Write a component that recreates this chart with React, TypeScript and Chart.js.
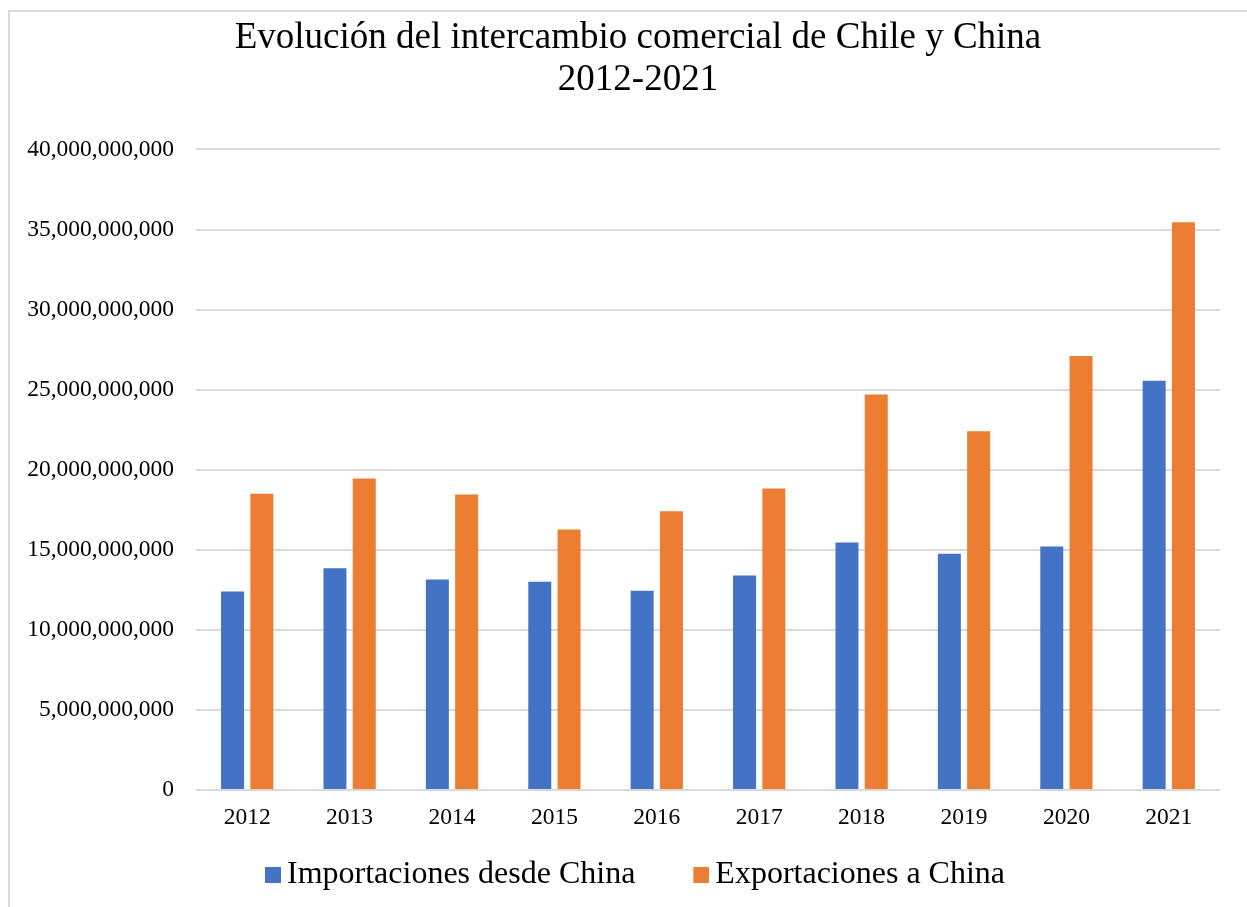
import React, { useEffect, useRef } from "react";
import { Chart, registerables } from "chart.js";

Chart.register(...registerables);

const years = ["2012", "2013", "2014", "2015", "2016", "2017", "2018", "2019", "2020", "2021"];
const importaciones = [12.4e9, 13.85e9, 13.15e9, 13.0e9, 12.45e9, 13.4e9, 15.45e9, 14.75e9, 15.2e9, 25.55e9];
const exportaciones = [18.5e9, 19.45e9, 18.45e9, 16.27e9, 17.4e9, 18.83e9, 24.7e9, 22.4e9, 27.1e9, 35.45e9];
const titleLines = ["Evolución del intercambio comercial de Chile y China", "2012-2021"];
const seriesNames = ["Importaciones desde China", "Exportaciones a China"];
const seriesColors = ["#4472C4", "#ED7D31"];
const yMin = 0;
const yMax = 40e9;
const yStep = 5e9;

const SERIF = "'Liberation Serif', 'Times New Roman', serif";

function makeSwatch(color: string): HTMLCanvasElement {
  const c = document.createElement("canvas");
  c.width = 20;
  c.height = 16;
  const ctx = c.getContext("2d")!;
  ctx.fillStyle = color;
  ctx.fillRect(4, 0, 16, 16);
  return c;
}

const noLabelClip = {
  id: "noLabelClip",
  beforeDraw(chart: any) {
    const x = chart.scales && chart.scales.x;
    if (x) x._computeLabelArea = () => undefined;
  },
};

export default function App() {
  const ref = useRef<HTMLCanvasElement>(null);

  useEffect(() => {
    if (!ref.current) return;
    const swatches = seriesColors.map(makeSwatch);
    const chart = new Chart(ref.current, {
      type: "bar",
      data: {
        labels: years,
        datasets: [
          {
            label: seriesNames[0],
            data: importaciones,
            backgroundColor: seriesColors[0],
            categoryPercentage: 0.572,
            barPercentage: 0.785,
          },
          {
            label: seriesNames[1],
            data: exportaciones,
            backgroundColor: seriesColors[1],
            categoryPercentage: 0.572,
            barPercentage: 0.785,
          },
        ],
      },
      plugins: [noLabelClip],
      options: {
        responsive: false,
        animation: false,
        devicePixelRatio: 1,
        layout: { padding: { left: 0, right: 0, top: 0, bottom: 6 } },
        plugins: {
          title: {
            display: true,
            text: titleLines,
            color: "#000",
            font: { family: SERIF, size: 37, weight: "normal", lineHeight: 1.12 },
            padding: { top: 6, bottom: 48.6 },
          },
          legend: {
            position: "bottom",
            labels: {
              usePointStyle: true,
              pointStyleWidth: 0.001,
              boxWidth: 16,
              boxHeight: 16,
              color: "#000",
              font: { family: SERIF, size: 32 },
              padding: 64,
              generateLabels: (c: any) =>
                Chart.defaults.plugins.legend.labels
                  .generateLabels(c)
                  .map((l: any, i: number) => ({ ...l, pointStyle: swatches[i] })),
            },
          },
          tooltip: { enabled: false },
        },
        scales: {
          x: {
            grid: { display: false },
            border: { display: false },
            ticks: { color: "#000", font: { family: SERIF, size: 23.5 }, padding: 6 },
            afterFit: (s: any) => {
              s.height = 5;
            },
          },
          y: {
            min: yMin,
            max: yMax,
            ticks: {
              stepSize: yStep,
              color: "#000",
              font: { family: SERIF, size: 23.5 },
              padding: 22,
              callback: (v: any) => Number(v).toLocaleString("en-US"),
            },
            grid: { color: "#d9d9d9", lineWidth: 2, drawTicks: false },
            border: { display: false },
            afterFit: (s: any) => {
              s.width = 186;
            },
          },
          y2: {
            position: "right",
            display: true,
            min: 0,
            max: 1,
            grid: { display: false },
            border: { display: false },
            ticks: { display: false },
            afterFit: (s: any) => {
              s.width = 46;
            },
          },
        },
      },
    });
    return () => chart.destroy();
  }, []);

  return (
    <div style={{ position: "fixed", left: 8, top: 8, right: 0, bottom: 0, overflow: "hidden", background: "#fff" }}>
      <div
        style={{
          marginTop: 2,
          borderLeft: "2px solid #d9d9d9",
          borderTop: "2px solid #d9d9d9",
          width: 1256,
          height: 895,
        }}
      >
        <canvas ref={ref} width={1256} height={895} style={{ display: "block" }} />
      </div>
    </div>
  );
}
